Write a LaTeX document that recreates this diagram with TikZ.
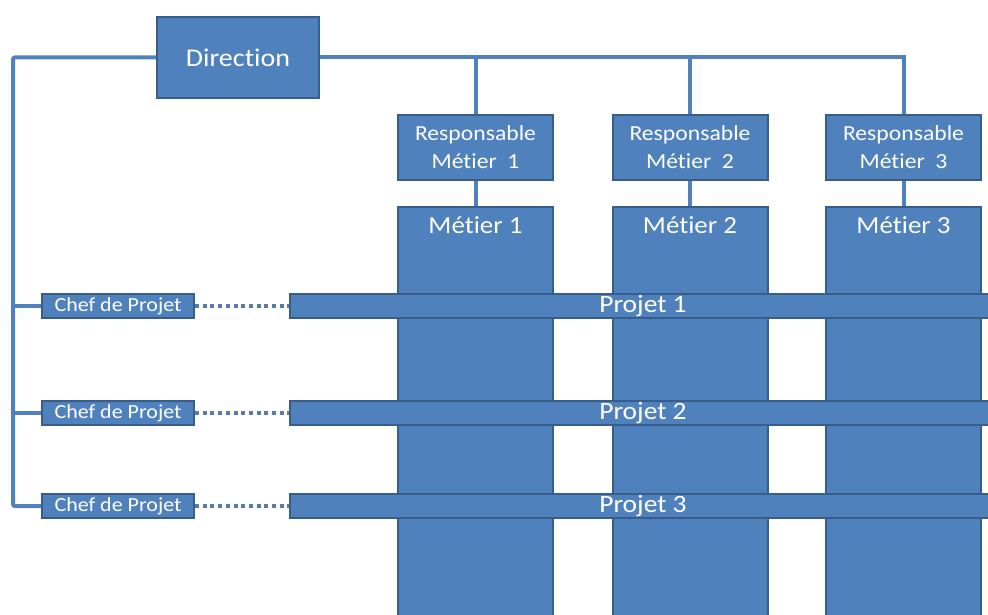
\documentclass[tikz,border=0pt]{standalone}
\usepackage{fontspec}
\setmainfont{Carlito}[FakeStretch=1.1, Ligatures=NoCommon]
\usepackage{tikz}
\definecolor{boxblue}{HTML}{4F81BD}
\definecolor{boxedge}{HTML}{385D8A}
\definecolor{dotblue}{HTML}{5A7BA8}

\begin{document}
\begin{tikzpicture}[x=1pt, y=-1pt,
  bloc/.style={draw=boxedge, line width=2pt, fill=boxblue, text=white, inner sep=0pt, align=center},
  lien/.style={draw=boxblue, line width=4pt},
  pointille/.style={draw=dotblue, line width=3.2pt, dash pattern=on 4pt off 3.7pt}]
\useasboundingbox (0,0) rectangle (988,615);
% direction et responsables
\node[bloc, minimum width=162pt, minimum height=81pt, font=\fontsize{25.5}{30}\selectfont] (dir) at (238,57.5) {Direction};
\foreach \i/\x in {1/475.5, 2/690, 3/903.5} {
  \node[bloc, minimum width=155pt, minimum height=65pt, font=\fontsize{21.5}{28}\selectfont] (resp\i) at (\x,147.5) {Responsable\\Métier~ \i};
  \node[bloc, minimum width=155pt, minimum height=418pt,
    label={[anchor=north, text=white, inner sep=0pt, yshift=-10pt, font=\fontsize{24.5}{28}\selectfont]north:Métier \i}] (met\i) at (\x,416) {};
  \draw[lien] (resp\i) -- (met\i);
}
% projets
\foreach \i/\y in {1/306, 2/413, 3/506} {
  \node[bloc, minimum width=706pt, minimum height=24pt, font=\fontsize{25}{28}\selectfont] (proj\i) at (643,\y) {Projet \i};
  \node[bloc, minimum width=152pt, minimum height=24pt, font=\fontsize{20}{24}\selectfont] (chef\i) at (118,\y) {Chef de Projet};
  \draw[pointille] (chef\i.east) -- (proj\i.west);
}
\coordinate (gauche) at (13,506);
\draw[lien, rounded corners=2pt] (dir.west) -| (gauche) -- (chef3.west);
\draw[lien] (chef1.west) -- (chef1.west -| gauche);
\draw[lien] (chef2.west) -- (chef2.west -| gauche);
\draw[lien] (dir.east) -| (resp3.north);
\draw[lien] (resp1.north) -- (resp1.north |- dir.east);
\draw[lien] (resp2.north) -- (resp2.north |- dir.east);
\end{tikzpicture}
\end{document}
